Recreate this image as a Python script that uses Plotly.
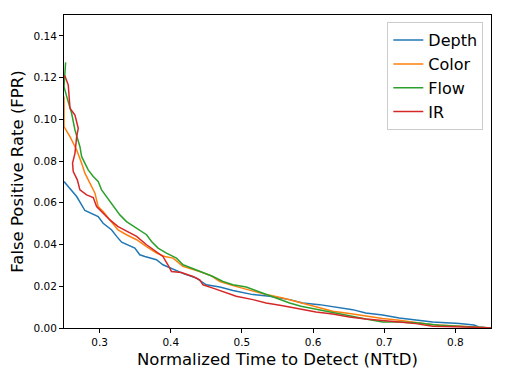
import plotly.graph_objects as go

# curves (x = NTtD, y = FPR)
depth_x = [0.25, 0.2678, 0.2794, 0.298, 0.305, 0.317, 0.324, 0.331, 0.3495, 0.3565, 0.3636, 0.3799,
           0.389, 0.403, 0.4196, 0.436, 0.45, 0.469, 0.4874, 0.5154, 0.539, 0.567, 0.5855, 0.609,
           0.637, 0.6556, 0.674, 0.6977, 0.721, 0.7444, 0.768, 0.8056, 0.826, 0.833, 0.85]
depth_y = [0.0702, 0.063, 0.0563, 0.0534, 0.0502, 0.047, 0.0439, 0.0411, 0.0383, 0.0351, 0.0343, 0.0327,
           0.0303, 0.0282, 0.0258, 0.0239, 0.0207, 0.0196, 0.018, 0.016, 0.0152, 0.0136, 0.012, 0.0112,
           0.0096, 0.0088, 0.0072, 0.0062, 0.0048, 0.0037, 0.0029, 0.0021, 0.0014, 0.0005, 0.0]

color_x = [0.25, 0.25, 0.2584, 0.2678, 0.2748, 0.2794, 0.2864, 0.2935, 0.298, 0.305, 0.3145, 0.326,
           0.3378, 0.352, 0.366, 0.38, 0.3916, 0.4033, 0.417, 0.4407, 0.457, 0.469, 0.4874, 0.5154,
           0.534, 0.5575, 0.581, 0.604, 0.6276, 0.651, 0.674, 0.6977, 0.721, 0.7444, 0.768, 0.7958,
           0.824, 0.85]
color_y = [0.111, 0.0965, 0.0917, 0.0853, 0.079, 0.0742, 0.0694, 0.0646, 0.0582, 0.0558, 0.0518, 0.047,
           0.0447, 0.0423, 0.039, 0.0359, 0.0343, 0.0335, 0.0295, 0.0271, 0.025, 0.0223, 0.0203, 0.0175,
           0.016, 0.0144, 0.0123, 0.0104, 0.008, 0.0069, 0.0056, 0.0045, 0.0037, 0.0027, 0.0016, 0.0011,
           0.0005, 0.0]

flow_x = [0.2523, 0.25, 0.2537, 0.2607, 0.2654, 0.27, 0.2724, 0.2748, 0.2794, 0.284, 0.2911, 0.298,
          0.3028, 0.31, 0.3215, 0.3285, 0.3378, 0.352, 0.366, 0.373, 0.3822, 0.394, 0.408, 0.4173,
          0.4407, 0.4593, 0.4734, 0.4874, 0.506, 0.5294, 0.548, 0.567, 0.583, 0.604, 0.6276, 0.651,
          0.674, 0.6977, 0.721, 0.7486, 0.777, 0.8056, 0.85]
flow_y = [0.1273, 0.1156, 0.111, 0.1029, 0.0949, 0.0901, 0.0869, 0.0821, 0.079, 0.0758, 0.0726, 0.0702,
          0.0662, 0.063, 0.0574, 0.0542, 0.051, 0.0478, 0.0447, 0.0415, 0.0383, 0.0359, 0.0335, 0.0303,
          0.0271, 0.0247, 0.0223, 0.0207, 0.0196, 0.0167, 0.0147, 0.012, 0.0104, 0.0091, 0.0075, 0.0059,
          0.0043, 0.0029, 0.0029, 0.0024, 0.0013, 0.0008, 0.0]

ir_x = [0.25, 0.2514, 0.256, 0.2584, 0.2654, 0.27, 0.2678, 0.2654, 0.262, 0.263, 0.2687, 0.2724,
        0.2818, 0.2911, 0.2958, 0.305, 0.3145, 0.326, 0.3378, 0.352, 0.366, 0.38, 0.389, 0.396, 0.401,
        0.415, 0.4313, 0.4407, 0.4453, 0.4593, 0.4734, 0.492, 0.5154, 0.534, 0.5575, 0.581, 0.604,
        0.6276, 0.651, 0.674, 0.6977, 0.721, 0.7444, 0.768, 0.815, 0.85]
ir_y = [0.1207, 0.1207, 0.1164, 0.1053, 0.102, 0.0957, 0.0917, 0.0837, 0.079, 0.075, 0.071, 0.0662,
        0.0638, 0.0625, 0.0582, 0.055, 0.0518, 0.0486, 0.0463, 0.0439, 0.0399, 0.0367, 0.0343, 0.0303,
        0.0271, 0.0266, 0.0247, 0.0231, 0.0207, 0.0191, 0.0175, 0.0152, 0.0136, 0.012, 0.0107, 0.0091,
        0.0077, 0.0067, 0.0053, 0.0043, 0.0037, 0.0029, 0.0021, 0.0008, 0.0005, 0.0]

names = ["Depth", "Color", "Flow", "IR"]
colors = ["#1f77b4", "#ff7f0e", "#2ca02c", "#d62728"]
series = [(depth_x, depth_y), (color_x, color_y), (flow_x, flow_y), (ir_x, ir_y)]

fig = go.Figure()
for name, col, (xs, ys) in zip(names, colors, series):
    fig.add_trace(go.Scatter(x=xs, y=ys, mode="lines", name=name,
                             line=dict(color=col, width=1.5)))

# page body has an 8px margin, so the figure is a bit smaller than the window
fig.update_layout(
    width=498, height=371,
    margin=dict(l=56, r=15, t=7, b=51, autoexpand=False),
    paper_bgcolor="white", plot_bgcolor="white",
    font=dict(family="DejaVu Sans", color="black"),
    legend=dict(x=0.982, y=0.977, xanchor="right", yanchor="top",
                bordercolor="#cccccc", borderwidth=1, bgcolor="white",
                font=dict(size=16), tracegroupgap=0, itemwidth=30),
    showlegend=True,
)
fig.update_xaxes(range=[0.25, 0.85], tickvals=[0.3, 0.4, 0.5, 0.6, 0.7, 0.8],
                 tickformat=".1f", ticks="outside", ticklen=4, tickcolor="black",
                 showline=True, linecolor="black", linewidth=1, mirror=True, automargin=False,
                 showgrid=False, zeroline=False, tickfont=dict(size=10.5),
                 title=dict(text="Normalized Time to Detect (NTtD)", font=dict(size=16.5), standoff=6))
fig.update_yaxes(range=[0, 0.15], tickvals=[0, 0.02, 0.04, 0.06, 0.08, 0.1, 0.12, 0.14],
                 tickformat=".2f", ticks="outside", ticklen=4, tickcolor="black",
                 showline=True, linecolor="black", linewidth=1, mirror=True, automargin=False,
                 showgrid=False, zeroline=False, tickfont=dict(size=10.5),
                 title=dict(text="False Positive Rate (FPR)", font=dict(size=16.5), standoff=8))

fig.write_html("out.html")
